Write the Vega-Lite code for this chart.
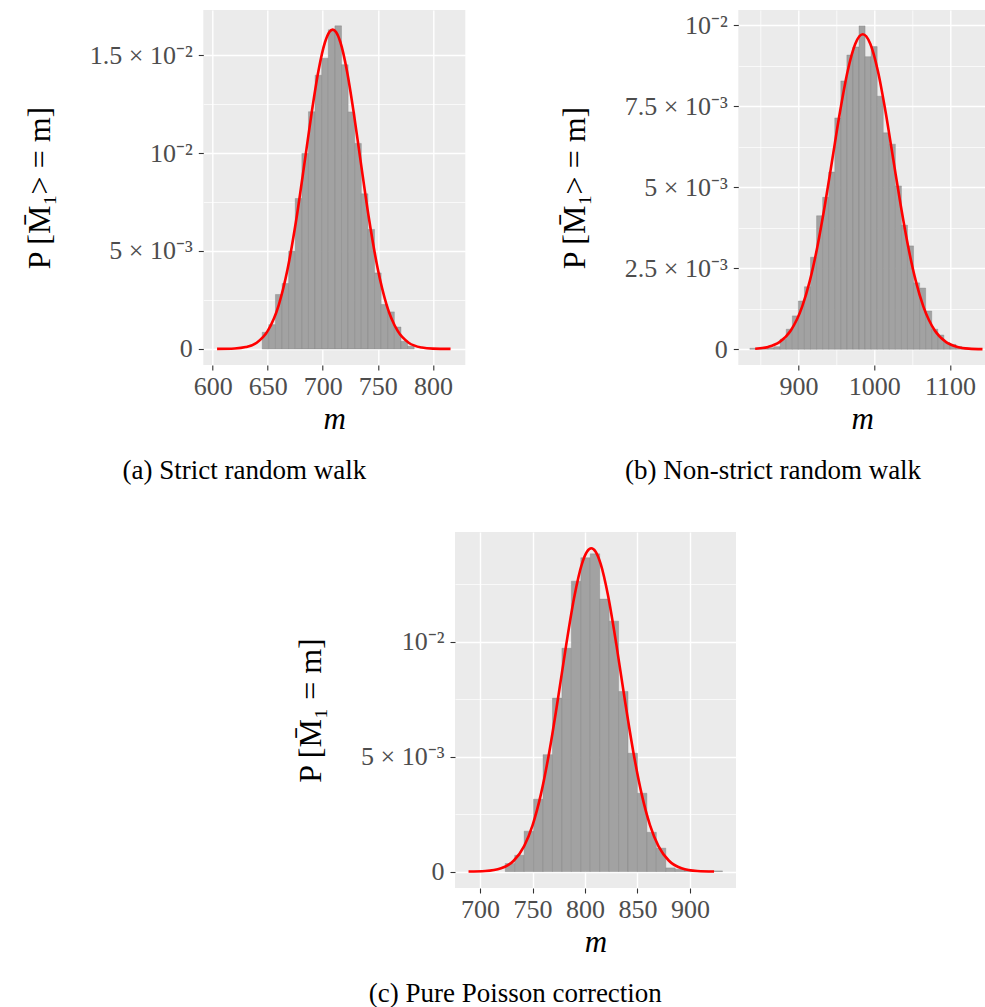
{
  "$schema": "https://vega.github.io/schema/vega-lite/v6.json",
  "background": "white",
  "padding": {"left": 23, "top": 10, "right": 0, "bottom": 0},
  "config": {
    "view": {"fill": "#EBEBEB", "stroke": null},
    "font": "Liberation Serif",
    "axis": {
      "domain": false, "grid": true, "gridColor": "white",
      "tickColor": "#333333", "tickSize": 5, "tickWidth": 1.1,
      "labelColor": "#4d4d4d", "labelFont": "Liberation Serif", "labelFontSize": 26,
      "labelOverlap": false, "labelFlush": false, "labelPadding": 3,
      "titleFont": "Liberation Serif", "titleFontWeight": "normal", "titleColor": "black"
    },
    "axisX": {"titleFontSize": 31, "titleFontStyle": "italic", "titlePadding": 5},
    "axisY": {"titleFontSize": 32, "titlePadding": 33, "labelPadding": 6},
    "title": {"font": "Liberation Serif", "fontSize": 27, "fontWeight": "normal", "color": "black", "orient": "bottom", "anchor": "middle", "frame": "bounds", "offset": 24}
  },
  "datasets": {
    "hist": [
      {"panel": "a", "lo": 645, "hi": 651, "p": 0.00085},
      {"panel": "a", "lo": 651, "hi": 657, "p": 0.00124},
      {"panel": "a", "lo": 657, "hi": 663, "p": 0.00278},
      {"panel": "a", "lo": 663, "hi": 669, "p": 0.00334},
      {"panel": "a", "lo": 669, "hi": 675, "p": 0.00499},
      {"panel": "a", "lo": 675, "hi": 681, "p": 0.00768},
      {"panel": "a", "lo": 681, "hi": 687, "p": 0.00998},
      {"panel": "a", "lo": 687, "hi": 693, "p": 0.01211},
      {"panel": "a", "lo": 693, "hi": 699, "p": 0.01397},
      {"panel": "a", "lo": 699, "hi": 705, "p": 0.01484},
      {"panel": "a", "lo": 705, "hi": 711, "p": 0.01629},
      {"panel": "a", "lo": 711, "hi": 717, "p": 0.01649},
      {"panel": "a", "lo": 717, "hi": 723, "p": 0.01451},
      {"panel": "a", "lo": 723, "hi": 729, "p": 0.01210},
      {"panel": "a", "lo": 729, "hi": 735, "p": 0.01049},
      {"panel": "a", "lo": 735, "hi": 741, "p": 0.00792},
      {"panel": "a", "lo": 741, "hi": 747, "p": 0.00610},
      {"panel": "a", "lo": 747, "hi": 753, "p": 0.00388},
      {"panel": "a", "lo": 753, "hi": 759, "p": 0.00227},
      {"panel": "a", "lo": 759, "hi": 765, "p": 0.00189},
      {"panel": "a", "lo": 765, "hi": 771, "p": 0.00112},
      {"panel": "a", "lo": 771, "hi": 777, "p": 0.00039},
      {"panel": "a", "lo": 777, "hi": 783, "p": 0.00014},
      {"panel": "b", "lo": 836, "hi": 844, "p": 0.00003},
      {"panel": "b", "lo": 844, "hi": 852, "p": 0.00003},
      {"panel": "b", "lo": 852, "hi": 860, "p": 0.00004},
      {"panel": "b", "lo": 860, "hi": 868, "p": 0.00005},
      {"panel": "b", "lo": 868, "hi": 876, "p": 0.00008},
      {"panel": "b", "lo": 876, "hi": 884, "p": 0.00031},
      {"panel": "b", "lo": 884, "hi": 892, "p": 0.00062},
      {"panel": "b", "lo": 892, "hi": 900, "p": 0.00103},
      {"panel": "b", "lo": 900, "hi": 908, "p": 0.00149},
      {"panel": "b", "lo": 908, "hi": 916, "p": 0.00193},
      {"panel": "b", "lo": 916, "hi": 924, "p": 0.00284},
      {"panel": "b", "lo": 924, "hi": 932, "p": 0.00412},
      {"panel": "b", "lo": 932, "hi": 940, "p": 0.00469},
      {"panel": "b", "lo": 940, "hi": 948, "p": 0.00547},
      {"panel": "b", "lo": 948, "hi": 956, "p": 0.00714},
      {"panel": "b", "lo": 956, "hi": 964, "p": 0.00828},
      {"panel": "b", "lo": 964, "hi": 972, "p": 0.00908},
      {"panel": "b", "lo": 972, "hi": 980, "p": 0.00933},
      {"panel": "b", "lo": 980, "hi": 988, "p": 0.00998},
      {"panel": "b", "lo": 988, "hi": 996, "p": 0.00903},
      {"panel": "b", "lo": 996, "hi": 1004, "p": 0.00934},
      {"panel": "b", "lo": 1004, "hi": 1012, "p": 0.00781},
      {"panel": "b", "lo": 1012, "hi": 1020, "p": 0.00668},
      {"panel": "b", "lo": 1020, "hi": 1028, "p": 0.00633},
      {"panel": "b", "lo": 1028, "hi": 1036, "p": 0.00504},
      {"panel": "b", "lo": 1036, "hi": 1044, "p": 0.00383},
      {"panel": "b", "lo": 1044, "hi": 1052, "p": 0.00319},
      {"panel": "b", "lo": 1052, "hi": 1060, "p": 0.00205},
      {"panel": "b", "lo": 1060, "hi": 1068, "p": 0.00189},
      {"panel": "b", "lo": 1068, "hi": 1076, "p": 0.00118},
      {"panel": "b", "lo": 1076, "hi": 1084, "p": 0.00062},
      {"panel": "b", "lo": 1084, "hi": 1092, "p": 0.00044},
      {"panel": "b", "lo": 1092, "hi": 1100, "p": 0.00021},
      {"panel": "b", "lo": 1100, "hi": 1108, "p": 0.00015},
      {"panel": "b", "lo": 1108, "hi": 1116, "p": 0.00008},
      {"panel": "b", "lo": 1116, "hi": 1124, "p": 0.00004},
      {"panel": "c", "lo": 724, "hi": 733, "p": 0.00035},
      {"panel": "c", "lo": 733, "hi": 742, "p": 0.00071},
      {"panel": "c", "lo": 742, "hi": 751, "p": 0.00176},
      {"panel": "c", "lo": 751, "hi": 760, "p": 0.00315},
      {"panel": "c", "lo": 760, "hi": 769, "p": 0.00509},
      {"panel": "c", "lo": 769, "hi": 778, "p": 0.00755},
      {"panel": "c", "lo": 778, "hi": 787, "p": 0.00972},
      {"panel": "c", "lo": 787, "hi": 796, "p": 0.01264},
      {"panel": "c", "lo": 796, "hi": 805, "p": 0.01366},
      {"panel": "c", "lo": 805, "hi": 814, "p": 0.01383},
      {"panel": "c", "lo": 814, "hi": 823, "p": 0.01186},
      {"panel": "c", "lo": 823, "hi": 832, "p": 0.01090},
      {"panel": "c", "lo": 832, "hi": 841, "p": 0.00784},
      {"panel": "c", "lo": 841, "hi": 850, "p": 0.00515},
      {"panel": "c", "lo": 850, "hi": 859, "p": 0.00341},
      {"panel": "c", "lo": 859, "hi": 868, "p": 0.00171},
      {"panel": "c", "lo": 868, "hi": 877, "p": 0.00102},
      {"panel": "c", "lo": 877, "hi": 886, "p": 0.00016},
      {"panel": "c", "lo": 886, "hi": 895, "p": 0.00010},
      {"panel": "c", "lo": 895, "hi": 904, "p": 0.00006},
      {"panel": "c", "lo": 904, "hi": 913, "p": 0.00004},
      {"panel": "c", "lo": 913, "hi": 922, "p": 0.00003},
      {"panel": "c", "lo": 922, "hi": 931, "p": 0.00003}
    ],
    "curve": [
      {"panel": "a", "m": 604, "p": 0.000002},
      {"panel": "a", "m": 620, "p": 0.000023},
      {"panel": "a", "m": 630, "p": 0.000094},
      {"panel": "a", "m": 640, "p": 0.000319},
      {"panel": "a", "m": 650, "p": 0.000919},
      {"panel": "a", "m": 660, "p": 0.002242},
      {"panel": "a", "m": 668, "p": 0.004066},
      {"panel": "a", "m": 676, "p": 0.006629},
      {"panel": "a", "m": 684, "p": 0.009727},
      {"panel": "a", "m": 690, "p": 0.012096},
      {"panel": "a", "m": 696, "p": 0.014176},
      {"panel": "a", "m": 702, "p": 0.015653},
      {"panel": "a", "m": 706, "p": 0.016179},
      {"panel": "a", "m": 709, "p": 0.0163},
      {"panel": "a", "m": 712, "p": 0.016179},
      {"panel": "a", "m": 716, "p": 0.015653},
      {"panel": "a", "m": 722, "p": 0.014176},
      {"panel": "a", "m": 728, "p": 0.012096},
      {"panel": "a", "m": 734, "p": 0.009727},
      {"panel": "a", "m": 742, "p": 0.006629},
      {"panel": "a", "m": 750, "p": 0.004066},
      {"panel": "a", "m": 758, "p": 0.002242},
      {"panel": "a", "m": 768, "p": 0.000919},
      {"panel": "a", "m": 778, "p": 0.000319},
      {"panel": "a", "m": 790, "p": 0.000072},
      {"panel": "a", "m": 800, "p": 0.000017},
      {"panel": "a", "m": 816, "p": 0.000001},
      {"panel": "b", "m": 843, "p": 0.000018},
      {"panel": "b", "m": 860, "p": 0.000074},
      {"panel": "b", "m": 875, "p": 0.000222},
      {"panel": "b", "m": 890, "p": 0.000579},
      {"panel": "b", "m": 905, "p": 0.001315},
      {"panel": "b", "m": 915, "p": 0.002102},
      {"panel": "b", "m": 925, "p": 0.003156},
      {"panel": "b", "m": 935, "p": 0.00445},
      {"panel": "b", "m": 945, "p": 0.005895},
      {"panel": "b", "m": 955, "p": 0.007337},
      {"panel": "b", "m": 965, "p": 0.008578},
      {"panel": "b", "m": 975, "p": 0.009421},
      {"panel": "b", "m": 985, "p": 0.00972},
      {"panel": "b", "m": 995, "p": 0.009421},
      {"panel": "b", "m": 1005, "p": 0.008578},
      {"panel": "b", "m": 1015, "p": 0.007337},
      {"panel": "b", "m": 1025, "p": 0.005895},
      {"panel": "b", "m": 1035, "p": 0.00445},
      {"panel": "b", "m": 1045, "p": 0.003156},
      {"panel": "b", "m": 1055, "p": 0.002102},
      {"panel": "b", "m": 1065, "p": 0.001315},
      {"panel": "b", "m": 1080, "p": 0.000579},
      {"panel": "b", "m": 1095, "p": 0.000222},
      {"panel": "b", "m": 1110, "p": 0.000074},
      {"panel": "b", "m": 1125, "p": 0.000021},
      {"panel": "b", "m": 1143, "p": 0.000004},
      {"panel": "c", "m": 689, "p": 0.000003},
      {"panel": "c", "m": 705, "p": 0.000025},
      {"panel": "c", "m": 720, "p": 0.000144},
      {"panel": "c", "m": 732, "p": 0.000472},
      {"panel": "c", "m": 742, "p": 0.001111},
      {"panel": "c", "m": 750, "p": 0.002014},
      {"panel": "c", "m": 758, "p": 0.003372},
      {"panel": "c", "m": 766, "p": 0.005219},
      {"panel": "c", "m": 774, "p": 0.007457},
      {"panel": "c", "m": 782, "p": 0.009846},
      {"panel": "c", "m": 790, "p": 0.012006},
      {"panel": "c", "m": 797, "p": 0.013381},
      {"panel": "c", "m": 802, "p": 0.013931},
      {"panel": "c", "m": 806, "p": 0.01407},
      {"panel": "c", "m": 810, "p": 0.013931},
      {"panel": "c", "m": 815, "p": 0.013381},
      {"panel": "c", "m": 822, "p": 0.012006},
      {"panel": "c", "m": 830, "p": 0.009846},
      {"panel": "c", "m": 838, "p": 0.007457},
      {"panel": "c", "m": 846, "p": 0.005219},
      {"panel": "c", "m": 854, "p": 0.003372},
      {"panel": "c", "m": 862, "p": 0.002014},
      {"panel": "c", "m": 870, "p": 0.001111},
      {"panel": "c", "m": 880, "p": 0.000472},
      {"panel": "c", "m": 892, "p": 0.000144},
      {"panel": "c", "m": 907, "p": 0.000025},
      {"panel": "c", "m": 923, "p": 0.000003}
    ]
  },
  "center": true,
  "spacing": 48,
  "vconcat": [
    {
      "spacing": 93,
      "hconcat": [
        {
          "width": 262, "height": 355,
          "title": {"text": "(a) Strict random walk"},
          "layer": [
            {
              "data": {"name": "hist"},
              "transform": [{"filter": "datum.panel === 'a'"}],
              "mark": {"type": "rect", "color": "#a2a2a2", "stroke": "#7a7a7a", "strokeWidth": 0.5, "strokeOpacity": 0.7},
              "encoding": {
                "x": {"field": "lo", "type": "quantitative", "title": "m",
                  "scale": {"domain": [591.5, 829.4], "nice": false, "zero": false},
                  "axis": {"values": [600, 625, 650, 675, 700, 725, 750, 775, 800, 825],
                    "labelExpr": "datum.value % 50 === 0 ? format(datum.value, 'd') : ''",
                    "gridWidth": {"condition": {"test": "datum.value % 50 === 0", "value": 1.4}, "value": 0.7},
                    "tickOpacity": {"condition": {"test": "datum.value % 50 === 0", "value": 1}, "value": 0}}},
                "x2": {"field": "hi"},
                "y": {"field": "p", "type": "quantitative", "title": "P [M̄₁˃ = m]",
                  "scale": {"domain": [-0.00082, 0.0173], "nice": false, "zero": false},
                  "axis": {"values": [0, 0.0025, 0.005, 0.0075, 0.01, 0.0125, 0.015],
                    "labelExpr": "datum.value === 0 ? '0' : abs(datum.value - 0.005) < 1e-9 ? '5 × 10⁻³' : abs(datum.value - 0.01) < 1e-9 ? '10⁻²' : abs(datum.value - 0.015) < 1e-9 ? '1.5 × 10⁻²' : ''",
                    "gridWidth": {"condition": {"test": "abs(datum.value * 200 - round(datum.value * 200)) < 1e-6", "value": 1.4}, "value": 0.7},
                    "tickOpacity": {"condition": {"test": "abs(datum.value * 200 - round(datum.value * 200)) < 1e-6", "value": 1}, "value": 0}}},
                "y2": {"datum": 0}
              }
            },
            {
              "data": {"name": "curve"},
              "transform": [{"filter": "datum.panel === 'a'"}],
              "mark": {"type": "line", "color": "#ff0000", "strokeWidth": 2.6, "interpolate": "monotone"},
              "encoding": {
                "x": {"field": "m", "type": "quantitative"},
                "y": {"field": "p", "type": "quantitative"}
              }
            }
          ]
        },
        {
          "width": 248, "height": 355,
          "title": {"text": "(b) Non-strict random walk"},
          "layer": [
            {
              "data": {"name": "hist"},
              "transform": [{"filter": "datum.panel === 'b'"}],
              "mark": {"type": "rect", "color": "#a2a2a2", "stroke": "#7a7a7a", "strokeWidth": 0.5, "strokeOpacity": 0.7},
              "encoding": {
                "x": {"field": "lo", "type": "quantitative", "title": "m",
                  "scale": {"domain": [820.7, 1148], "nice": false, "zero": false},
                  "axis": {"values": [850, 900, 950, 1000, 1050, 1100],
                    "labelExpr": "datum.value % 100 === 0 ? format(datum.value, 'd') : ''",
                    "gridWidth": {"condition": {"test": "datum.value % 100 === 0", "value": 1.4}, "value": 0.7},
                    "tickOpacity": {"condition": {"test": "datum.value % 100 === 0", "value": 1}, "value": 0}}},
                "x2": {"field": "hi"},
                "y": {"field": "p", "type": "quantitative", "title": "P [M̄₁˃ = m]",
                  "scale": {"domain": [-0.000485, 0.01047], "nice": false, "zero": false},
                  "axis": {"values": [0, 0.00125, 0.0025, 0.00375, 0.005, 0.00625, 0.0075, 0.00875, 0.01],
                    "labelExpr": "datum.value === 0 ? '0' : abs(datum.value - 0.0025) < 1e-9 ? '2.5 × 10⁻³' : abs(datum.value - 0.005) < 1e-9 ? '5 × 10⁻³' : abs(datum.value - 0.0075) < 1e-9 ? '7.5 × 10⁻³' : abs(datum.value - 0.01) < 1e-9 ? '10⁻²' : ''",
                    "gridWidth": {"condition": {"test": "abs(datum.value * 400 - round(datum.value * 400)) < 1e-6", "value": 1.4}, "value": 0.7},
                    "tickOpacity": {"condition": {"test": "abs(datum.value * 400 - round(datum.value * 400)) < 1e-6", "value": 1}, "value": 0}}},
                "y2": {"datum": 0}
              }
            },
            {
              "data": {"name": "curve"},
              "transform": [{"filter": "datum.panel === 'b'"}],
              "mark": {"type": "line", "color": "#ff0000", "strokeWidth": 2.6, "interpolate": "monotone"},
              "encoding": {
                "x": {"field": "m", "type": "quantitative"},
                "y": {"field": "p", "type": "quantitative"}
              }
            }
          ]
        }
      ]
    },
    {
      "width": 281, "height": 356,
      "title": {"text": "(c) Pure Poisson correction"},
      "layer": [
        {
          "data": {"name": "hist"},
          "transform": [{"filter": "datum.panel === 'c'"}],
          "mark": {"type": "rect", "color": "#a2a2a2", "stroke": "#7a7a7a", "strokeWidth": 0.5, "strokeOpacity": 0.7},
          "encoding": {
            "x": {"field": "lo", "type": "quantitative", "title": "m",
              "scale": {"domain": [676.1, 943.9], "nice": false, "zero": false},
              "axis": {"values": [700, 725, 750, 775, 800, 825, 850, 875, 900, 925],
                "labelExpr": "datum.value % 50 === 0 ? format(datum.value, 'd') : ''",
                "gridWidth": {"condition": {"test": "datum.value % 50 === 0", "value": 1.4}, "value": 0.7},
                "tickOpacity": {"condition": {"test": "datum.value % 50 === 0", "value": 1}, "value": 0}}},
            "x2": {"field": "hi"},
            "y": {"field": "p", "type": "quantitative", "title": "P [M̄₁ = m]",
              "scale": {"domain": [-0.000714, 0.01478], "nice": false, "zero": false},
              "axis": {"values": [0, 0.0025, 0.005, 0.0075, 0.01, 0.0125],
                "labelExpr": "datum.value === 0 ? '0' : abs(datum.value - 0.005) < 1e-9 ? '5 × 10⁻³' : abs(datum.value - 0.01) < 1e-9 ? '10⁻²' : ''",
                "gridWidth": {"condition": {"test": "abs(datum.value * 200 - round(datum.value * 200)) < 1e-6", "value": 1.4}, "value": 0.7},
                "tickOpacity": {"condition": {"test": "abs(datum.value * 200 - round(datum.value * 200)) < 1e-6", "value": 1}, "value": 0}}},
            "y2": {"datum": 0}
          }
        },
        {
          "data": {"name": "curve"},
          "transform": [{"filter": "datum.panel === 'c'"}],
          "mark": {"type": "line", "color": "#ff0000", "strokeWidth": 2.6, "interpolate": "monotone"},
          "encoding": {
            "x": {"field": "m", "type": "quantitative"},
            "y": {"field": "p", "type": "quantitative"}
          }
        }
      ]
    }
  ]
}
